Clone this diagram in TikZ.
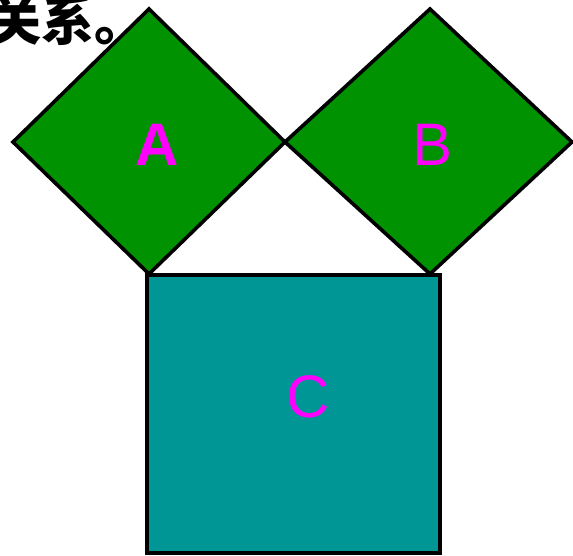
\documentclass[tikz,border=0pt]{standalone}
\usepackage{fontspec}
\setmainfont{Liberation Sans}
\newfontfamily\cjk{Noto Sans CJK SC}
\definecolor{sqgreen}{RGB}{0,146,0}
\definecolor{sqteal}{RGB}{0,150,150}
\definecolor{lblmag}{RGB}{255,0,255}
\begin{document}
\begin{tikzpicture}[x=0.5pt,y=-0.5pt,
  sq/.style={draw=black,line width=1.8pt,line join=miter},
  lbl/.style={text=lblmag,font=\fontsize{30}{30}\selectfont,inner sep=0pt}]
\useasboundingbox (0,0) rectangle (573,556);
\node[anchor=base west,inner sep=0pt,font=\cjk\bfseries\fontsize{26.5}{27}\selectfont] (title) at (-12,41) {关系。};
\filldraw[sq,fill=sqgreen] (13,142) -- (149,9) -- (285,142) -- (149,274) -- cycle;
\filldraw[sq,fill=sqgreen] (285,142) -- (430,9) -- (572,142) -- (430,274) -- cycle;
\filldraw[sq,fill=sqteal] (147,275) rectangle (440,553);
\node[lbl,font=\bfseries\fontsize{30}{30}\selectfont] (A) at (157,145) {A};
\node[lbl] (B) at (433,145) {B};
\node[lbl] (C) at (308,397) {C};
\end{tikzpicture}
\end{document}
